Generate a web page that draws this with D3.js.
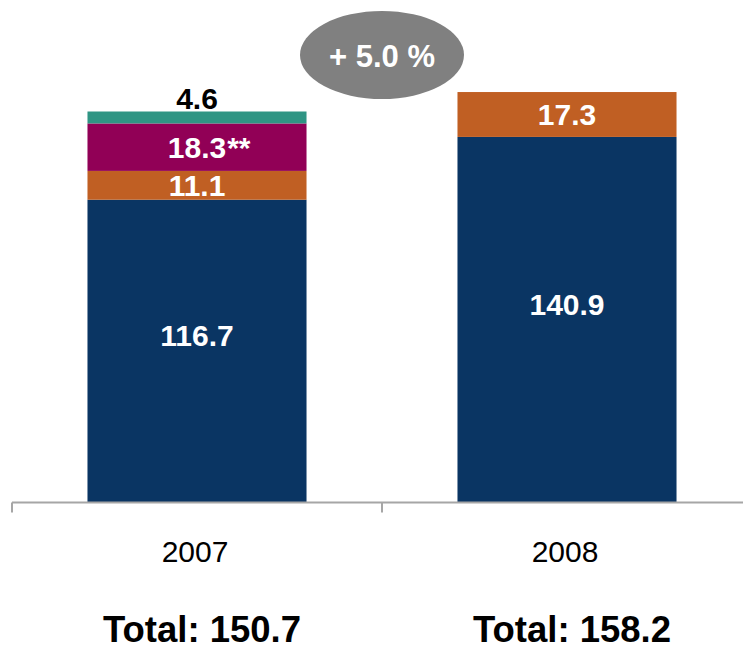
<!DOCTYPE html>
<html>
<head>
<meta charset="utf-8">
<script src="https://cdn.jsdelivr.net/npm/d3@7"></script>
<style>
  html, body { margin: 0; padding: 0; background: #fff; }
  svg { display: block; font-family: "Liberation Sans", Arial, sans-serif; }
</style>
</head>
<body>
<svg id="chart" width="743" height="645"></svg>
<script>
// Years on the category axis
const years = ["2007", "2008"];
// Stacked segments, bottom to top
const segBase    = [116.7, 140.9];
const segOrange  = [11.1, 17.3];
const segMagenta = [18.3, 0];
const segTeal    = [4.6, 0];
// Footnote markers appended to segment labels
const magentaNote = ["**", ""];
// Totals printed under each year
const totals = [150.7, 158.2];
const growthText = "+ 5.0 %";

const keys = ["base", "orange", "magenta", "teal"];
const colors = { base: "#0a3563", orange: "#c05f23", magenta: "#910056", teal: "#2f9584" };

const rows = years.map((yr, i) => ({
  year: yr,
  base: segBase[i],
  orange: segOrange[i],
  magenta: segMagenta[i],
  teal: segTeal[i],
  note: magentaNote[i],
  total: totals[i]
}));

const svg = d3.select("#chart");

const x = d3.scaleBand()
  .domain(years)
  .range([12, 752])
  .paddingInner(0.408)
  .paddingOuter(0.204);

const baseY = 502.5;
const pxPerUnit = 391 / 150.7;
const y = d3.scaleLinear()
  .domain([0, 160])
  .range([baseY, baseY - 160 * pxPerUnit]);

const stacked = d3.stack().keys(keys)(rows);

// Bars
const layers = svg.append("g").selectAll("g")
  .data(stacked)
  .join("g")
  .attr("fill", d => colors[d.key]);

layers.selectAll("rect")
  .data(d => d.filter(s => s[1] - s[0] > 0))
  .join("rect")
  .attr("x", d => x(d.data.year))
  .attr("width", x.bandwidth())
  .attr("y", d => y(d[1]))
  .attr("height", d => y(d[0]) - y(d[1]));

// Axis line and category boundary ticks
const axis = svg.append("g").attr("stroke", "#a6a6a6").attr("stroke-width", 2);
axis.append("line")
  .attr("x1", x.range()[0]).attr("x2", 743)
  .attr("y1", baseY).attr("y2", baseY);
const edges = d3.range(years.length + 1).map(i => x.range()[0] + i * x.step());
axis.selectAll("line.tick")
  .data(edges)
  .join("line")
  .attr("class", "tick")
  .attr("x1", d => d).attr("x2", d => d)
  .attr("y1", baseY).attr("y2", baseY + 10);

// Segment value labels
const labels = svg.append("g")
  .attr("font-weight", "bold")
  .attr("font-size", 30)
  .attr("text-anchor", "middle");

stacked.forEach(layer => {
  layer.forEach(s => {
    const v = s[1] - s[0];
    if (v <= 0) return;
    const cx = x(s.data.year) + x.bandwidth() / 2;
    const top = y(s[1]), bot = y(s[0]);
    let ty, fill = "#fff";
    if (bot - top < 25) {
      // thin segment: value sits above the bar
      ty = top - 2.5;
      fill = "#000";
    } else {
      let mid = (top + bot) / 2;
      if (layer.key === "base") mid -= 16;
      ty = mid + 10.8;
    }
    const t = labels.append("text")
      .attr("x", cx)
      .attr("y", ty)
      .attr("fill", fill)
      .text(v.toFixed(1));
    if (layer.key === "magenta" && s.data.note) {
      const w = t.node().getComputedTextLength();
      labels.append("text")
        .attr("x", cx + w / 2 + 1)
        .attr("y", ty)
        .attr("fill", fill)
        .attr("text-anchor", "start")
        .text(s.data.note);
    }
  });
});

// Year labels
svg.append("g").selectAll("text")
  .data(rows)
  .join("text")
  .attr("x", d => x(d.year) + x.bandwidth() / 2 - 2)
  .attr("y", 561.5)
  .attr("text-anchor", "middle")
  .attr("font-size", 30)
  .attr("fill", "#000")
  .text(d => d.year);

// Totals
svg.append("g").selectAll("text")
  .data(rows)
  .join("text")
  .attr("x", d => x(d.year) + x.bandwidth() / 2 + 5)
  .attr("y", 642)
  .attr("text-anchor", "middle")
  .attr("font-size", 36.5)
  .attr("font-weight", "bold")
  .attr("fill", "#000")
  .text(d => "Total: " + d.total.toFixed(1));

// Growth bubble between the two bars
const gx = (x(years[0]) + x.bandwidth() + x(years[1])) / 2;
svg.append("ellipse")
  .attr("cx", gx)
  .attr("cy", 55)
  .attr("rx", 82)
  .attr("ry", 44)
  .attr("fill", "#808080");
svg.append("text")
  .attr("x", gx)
  .attr("y", 67)
  .attr("text-anchor", "middle")
  .attr("font-size", 31)
  .attr("font-weight", "bold")
  .attr("fill", "#fff")
  .text(growthText);
</script>
</body>
</html>
